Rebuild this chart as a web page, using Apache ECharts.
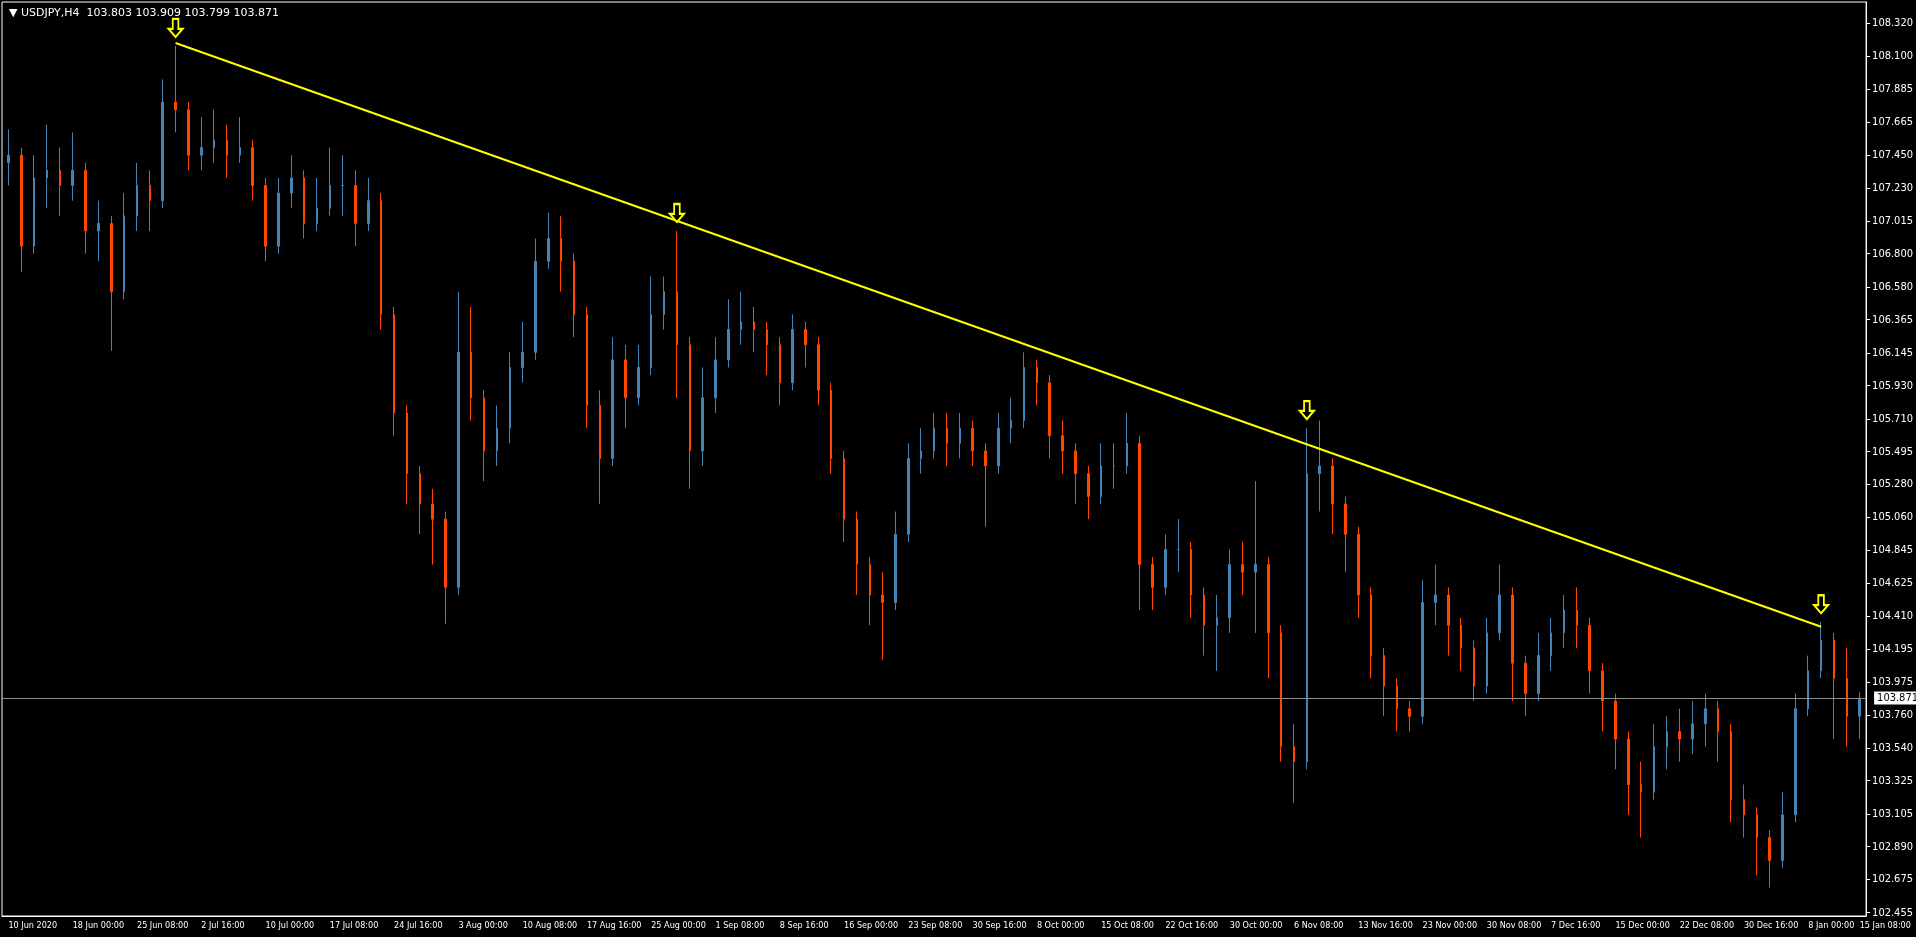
<!DOCTYPE html>
<html>
<head>
<meta charset="utf-8">
<script src="https://cdn.jsdelivr.net/npm/echarts@6/dist/echarts.min.js"></script>
<style>
  html, body { margin: 0; padding: 0; background: #000; }
  #usdjpy { width: 1916px; height: 937px; }
</style>
</head>
<body>
<div id="usdjpy"></div>
<script>
// USDJPY H4 蜡烛图 + 下降趋势线
var chart = echarts.init(document.getElementById("usdjpy"));

var firstOpen = 107.40;
var closes = [107.45, 106.85, 107.30, 107.35, 107.25, 107.35, 106.95, 107.00, 106.55, 107.05,
    107.25, 107.15, 107.80, 107.75, 107.45, 107.50, 107.55, 107.45, 107.50, 107.25,
    106.85, 107.20, 107.30, 107.00, 107.10, 107.25, 107.25, 107.00, 107.15, 106.40,
    105.75, 105.35, 105.15, 105.05, 104.60, 106.15, 105.85, 105.50, 105.65, 106.05,
    106.15, 106.75, 106.90, 106.75, 106.40, 105.80, 105.45, 106.10, 105.85, 106.05,
    106.40, 106.55, 106.20, 105.50, 105.85, 106.10, 106.30, 106.35, 106.30, 106.20,
    105.95, 106.30, 106.20, 105.90, 105.45, 105.05, 104.75, 104.55, 104.50, 104.95,
    105.45, 105.50, 105.65, 105.55, 105.65, 105.50, 105.40, 105.65, 105.70, 106.05,
    105.95, 105.60, 105.50, 105.35, 105.20, 105.40, 105.40, 105.55, 104.75, 104.60,
    104.85, 104.85, 104.55, 104.35, 104.40, 104.75, 104.70, 104.75, 104.30, 103.55,
    103.45, 105.35, 105.40, 105.15, 104.95, 104.55, 104.15, 103.95, 103.80, 103.75,
    104.50, 104.55, 104.35, 104.20, 103.95, 104.30, 104.55, 104.10, 103.90, 104.15,
    104.30, 104.45, 104.35, 104.05, 103.85, 103.60, 103.30, 103.25, 103.55, 103.65,
    103.60, 103.70, 103.80, 103.65, 103.20, 103.10, 102.95, 102.80, 103.10, 103.80,
    104.05, 104.25, 104.00, 103.75, 103.871];
var highs = [107.62, 107.50, 107.45, 107.65, 107.50, 107.60, 107.40, 107.15, 107.05, 107.20,
    107.40, 107.35, 107.95, 108.17, 107.80, 107.70, 107.75, 107.65, 107.70, 107.55,
    107.30, 107.30, 107.45, 107.35, 107.30, 107.50, 107.45, 107.35, 107.30, 107.20,
    106.45, 105.80, 105.40, 105.25, 105.10, 106.55, 106.45, 105.90, 105.80, 106.15,
    106.35, 106.90, 107.07, 107.05, 106.80, 106.45, 105.90, 106.25, 106.20, 106.20,
    106.65, 106.65, 106.95, 106.25, 106.05, 106.25, 106.50, 106.55, 106.45, 106.35,
    106.25, 106.40, 106.35, 106.25, 105.95, 105.50, 105.10, 104.80, 104.70, 105.10,
    105.55, 105.65, 105.75, 105.75, 105.75, 105.70, 105.55, 105.75, 105.85, 106.15,
    106.10, 106.00, 105.70, 105.55, 105.40, 105.55, 105.55, 105.75, 105.60, 104.80,
    104.95, 105.05, 104.90, 104.60, 104.55, 104.85, 104.90, 105.30, 104.80, 104.35,
    103.70, 105.65, 105.70, 105.45, 105.20, 105.00, 104.60, 104.20, 104.00, 103.85,
    104.65, 104.75, 104.60, 104.40, 104.25, 104.40, 104.75, 104.60, 104.15, 104.30,
    104.40, 104.55, 104.60, 104.40, 104.10, 103.90, 103.65, 103.45, 103.70, 103.75,
    103.80, 103.85, 103.90, 103.85, 103.70, 103.30, 103.15, 103.00, 103.25, 103.90,
    104.15, 104.37, 104.30, 104.20, 103.909];
var lows = [107.25, 106.68, 106.80, 107.10, 107.05, 107.15, 106.80, 106.75, 106.16, 106.50,
    106.95, 106.95, 107.10, 107.60, 107.35, 107.35, 107.40, 107.30, 107.40, 107.15,
    106.75, 106.80, 107.10, 106.90, 106.95, 107.05, 107.05, 106.85, 106.95, 106.30,
    105.60, 105.15, 104.95, 104.75, 104.36, 104.55, 105.70, 105.30, 105.40, 105.55,
    105.95, 106.10, 106.70, 106.55, 106.25, 105.65, 105.15, 105.40, 105.65, 105.80,
    106.00, 106.30, 105.85, 105.25, 105.40, 105.75, 106.05, 106.20, 106.15, 106.00,
    105.80, 105.90, 106.05, 105.80, 105.35, 104.90, 104.55, 104.35, 104.12, 104.45,
    104.90, 105.35, 105.45, 105.40, 105.45, 105.40, 105.00, 105.35, 105.55, 105.65,
    105.80, 105.45, 105.35, 105.15, 105.05, 105.15, 105.25, 105.35, 104.45, 104.45,
    104.55, 104.70, 104.40, 104.15, 104.05, 104.30, 104.55, 104.30, 104.00, 103.45,
    103.18, 103.40, 105.10, 104.95, 104.70, 104.40, 104.00, 103.75, 103.65, 103.65,
    103.70, 104.35, 104.15, 104.05, 103.85, 103.90, 104.25, 103.85, 103.75, 103.85,
    104.05, 104.20, 104.20, 103.90, 103.65, 103.40, 103.10, 102.95, 103.20, 103.40,
    103.45, 103.50, 103.55, 103.45, 103.05, 102.95, 102.70, 102.62, 102.75, 103.05,
    103.75, 104.00, 103.60, 103.55, 103.60];

var timeLabels = ['10 Jun 2020', '18 Jun 00:00', '25 Jun 08:00', '2 Jul 16:00', '10 Jul 00:00',
    '17 Jul 08:00', '24 Jul 16:00', '3 Aug 00:00', '10 Aug 08:00', '17 Aug 16:00',
    '25 Aug 00:00', '1 Sep 08:00', '8 Sep 16:00', '16 Sep 00:00', '23 Sep 08:00',
    '30 Sep 16:00', '8 Oct 00:00', '15 Oct 08:00', '22 Oct 16:00', '30 Oct 00:00',
    '6 Nov 08:00', '13 Nov 16:00', '23 Nov 00:00', '30 Nov 08:00', '7 Dec 16:00',
    '15 Dec 00:00', '22 Dec 08:00', '30 Dec 16:00', '8 Jan 00:00', '15 Jan 08:00'];
var priceTicks = [108.320, 108.100, 107.885, 107.665, 107.450, 107.230, 107.015, 106.800,
    106.580, 106.365, 106.145, 105.930, 105.710, 105.495, 105.280, 105.060, 104.845,
    104.625, 104.410, 104.195, 103.975, 103.760, 103.540, 103.325, 103.105, 102.890,
    102.675, 102.455];

var barsPerLabel = 5;
var lastPrice = 103.871;
// 趋势线两端 [index, price]
var trendStart = [13, 108.19];
var trendEnd = [141, 104.34];
// 箭头所在的蜡烛
var arrowBars = [13, 52, 101, 141];

// 组装数据
var category = [];
var candles = [];
closes.forEach(function (c, i) {
    var open = i === 0 ? firstOpen : closes[i - 1];
    candles.push([open, c, lows[i], highs[i]]);
    category.push(i % barsPerLabel === 0 ? (timeLabels[i / barsPerLabel] || '') : '');
});
// 最后一个标签落在最后一根蜡烛上
category[category.length - 1] = timeLabels[timeLabels.length - 1];

var arrowPath = 'path://M3,0 L7,0 L7,6 L10,6 L5,11 L0,6 L3,6 Z';
var arrows = arrowBars.map(function (i) {
    return { coord: [i, highs[i]] };
});

var option = {
    backgroundColor: '#000',
    animation: false,
    title: {
        text: '▼ USDJPY,H4  103.803 103.909 103.799 103.871',
        left: 4,
        top: 3,
        textStyle: {
            color: '#fff',
            fontSize: 11,
            fontWeight: 'normal',
            fontFamily: 'DejaVu Sans',
        },
    },
    grid: {
        left: 2,
        right: 46,
        top: 2,
        bottom: 21,
        show: true,
        borderColor: '#fff',
        borderWidth: 1,
        backgroundColor: '#000',
    },
    xAxis: {
        type: 'category',
        data: category,
        boundaryGap: true,
        axisLine: { lineStyle: { color: '#fff' } },
        axisTick: { interval: barsPerLabel - 1, length: 4, lineStyle: { color: '#fff' } },
        axisLabel: {
            interval: function (i, v) { return v !== ''; },
            color: '#fff',
            fontSize: 9,
            fontFamily: 'DejaVu Sans Condensed',
            align: 'left',
            margin: 5,
            hideOverlap: false,
        },
        splitLine: { show: false },
    },
    yAxis: {
        type: 'value',
        position: 'right',
        min: 102.433,
        max: 108.46,
        scale: true,
        axisLine: { show: true, lineStyle: { color: '#fff' } },
        axisTick: { show: true, length: 4, customValues: priceTicks, lineStyle: { color: '#fff' } },
        axisLabel: {
            customValues: priceTicks,
            color: '#fff',
            fontSize: 11,
            fontFamily: 'DejaVu Sans Condensed',
            margin: 6,
            formatter: function (v) { return v.toFixed(3); },
        },
        splitLine: { show: false },
    },
    series: [
        {
            type: 'candlestick',
            data: candles,
            barWidth: 2,
            itemStyle: {
                color: '#4682b4',
                color0: '#ff4500',
                borderColor: '#4682b4',
                borderColor0: '#ff4500',
                borderWidth: 1,
            },
            markLine: {
                symbol: ['none', 'none'],
                silent: true,
                animation: false,
                data: [
                    [
                        { coord: trendStart, lineStyle: { color: '#ffff00', width: 2, type: 'solid' }, label: { show: false } },
                        { coord: trendEnd },
                    ],
                    {
                        yAxis: lastPrice,
                        lineStyle: { color: '#909090', width: 1, type: 'solid' },
                        label: {
                            show: true,
                            position: 'end',
                            formatter: lastPrice.toFixed(3),
                            color: '#000',
                            backgroundColor: '#fff',
                            fontSize: 11,
                            fontFamily: 'DejaVu Sans Condensed',
                            padding: [1, 3],
                            distance: 8,
                        },
                    },
                ],
            },
            markPoint: {
                symbol: arrowPath,
                symbolSize: [14, 18],
                symbolOffset: [0, -18],
                itemStyle: { color: '#000', borderColor: '#ffff00', borderWidth: 2 },
                label: { show: false },
                data: arrows,
            },
        },
    ],
};

chart.setOption(option);
window.addEventListener("resize", function () {
    chart.resize();
});
</script>
</body>
</html>
